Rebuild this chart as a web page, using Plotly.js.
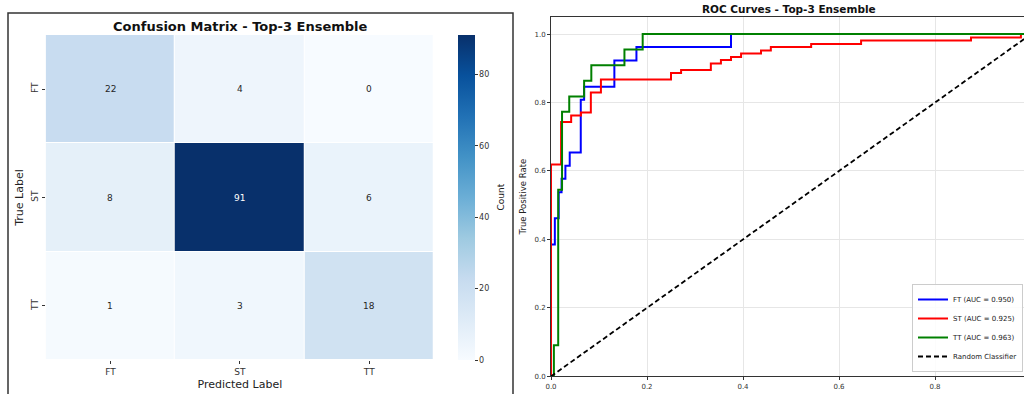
<!DOCTYPE html>
<html>
<head>
<meta charset="utf-8">
<script src="https://cdn.plot.ly/plotly-3.0.1.min.js"></script>
<style>
html,body{margin:0;padding:0;width:1024px;height:394px;overflow:hidden;background:#fff;}
#chart{width:1040px;height:410px;}
</style>
</head>
<body>
<div id="chart"></div>
<script>
// ---- data ----
const classes = ['FT', 'ST', 'TT'];
const cmValues = [
  [22, 4, 0],
  [8, 91, 6],
  [1, 3, 18]
];
const colorbarTicks = [0, 20, 40, 60, 80];

const aucValues = [0.950, 0.925, 0.963];
const ftFpr = [0, 0, 0.008, 0.008, 0.016, 0.016, 0.022, 0.022, 0.030, 0.030, 0.039, 0.039, 0.062, 0.062, 0.069, 0.069, 0.132, 0.132, 0.178, 0.178, 0.375, 0.375, 1];
const ftTpr = [0, 0.385, 0.385, 0.462, 0.462, 0.538, 0.538, 0.577, 0.577, 0.615, 0.615, 0.654, 0.654, 0.808, 0.808, 0.846, 0.846, 0.923, 0.923, 0.962, 0.962, 1.0, 1.0];
const stFpr = [0, 0, 0.021, 0.021, 0.042, 0.042, 0.0625, 0.0625, 0.083, 0.083, 0.104, 0.104, 0.25, 0.25, 0.271, 0.271, 0.333, 0.333, 0.354, 0.354, 0.375, 0.375, 0.396, 0.396, 0.4375, 0.4375, 0.458, 0.458, 0.542, 0.542, 0.646, 0.646, 0.875, 0.875, 0.979, 0.979, 1];
const stTpr = [0, 0.619, 0.619, 0.743, 0.743, 0.762, 0.762, 0.771, 0.771, 0.829, 0.829, 0.867, 0.867, 0.886, 0.886, 0.895, 0.895, 0.914, 0.914, 0.924, 0.924, 0.933, 0.933, 0.943, 0.943, 0.952, 0.952, 0.962, 0.962, 0.971, 0.971, 0.981, 0.981, 0.990, 0.990, 1.0, 1.0];
const ttFpr = [0, 0.006, 0.006, 0.015, 0.015, 0.023, 0.023, 0.038, 0.038, 0.069, 0.069, 0.084, 0.084, 0.153, 0.153, 0.191, 0.191, 1];
const ttTpr = [0, 0, 0.091, 0.091, 0.545, 0.545, 0.773, 0.773, 0.818, 0.818, 0.864, 0.864, 0.909, 0.909, 0.955, 0.955, 1.0, 1.0];
const diagonal = [0, 1];
const rocTicks = [0, 0.2, 0.4, 0.6, 0.8, 1.0];

// ---- layout helpers (pixel geometry of a 1040x410 canvas, cropped to 1024x394) ----
const W = 1040, H = 410;
const px = v => v / W;
const py = v => 1 - v / H;
const FONT = 'DejaVu Sans, sans-serif';

const blues = [
  [0.0, '#f7fbff'], [0.125, '#deebf7'], [0.25, '#c6dbef'], [0.375, '#9ecae1'],
  [0.5, '#6baed6'], [0.625, '#4292c6'], [0.75, '#2171b5'], [0.875, '#08519c'], [1.0, '#08306b']
];
const zMax = 91;

const traces = [];
traces.push({
  type: 'heatmap',
  x: classes, y: classes, z: cmValues,
  xaxis: 'x', yaxis: 'y',
  colorscale: blues, zmin: 0, zmax: zMax,
  xgap: 1, ygap: 1,
  hoverinfo: 'none', showlegend: false,
  colorbar: {
    x: px(458), xanchor: 'left', xref: 'paper', xpad: 0,
    y: py(197.5), yanchor: 'middle', yref: 'paper', ypad: 0,
    len: 325, lenmode: 'pixels',
    thickness: 17, thicknessmode: 'pixels',
    outlinewidth: 0,
    ticks: 'outside', ticklen: 3, tickcolor: '#333', tickwidth: 1,
    tickvals: colorbarTicks,
    tickfont: {family: FONT, size: 8, color: '#333'}
  }
});

const rocSeries = [
  {name: 'FT', fpr: ftFpr, tpr: ftTpr, color: '#0000ff', auc: aucValues[0]},
  {name: 'ST', fpr: stFpr, tpr: stTpr, color: '#ff0000', auc: aucValues[1]},
  {name: 'TT', fpr: ttFpr, tpr: ttTpr, color: '#008000', auc: aucValues[2]}
];
rocSeries.forEach(s => {
  traces.push({
    type: 'scatter', mode: 'lines',
    x: s.fpr, y: s.tpr, xaxis: 'x2', yaxis: 'y2',
    name: s.name + ' (AUC = ' + s.auc.toFixed(3) + ')',
    line: {color: s.color, width: 2},
    hoverinfo: 'none'
  });
});
traces.push({
  type: 'scatter', mode: 'lines',
  x: diagonal, y: diagonal, xaxis: 'x2', yaxis: 'y2',
  name: 'Random Classifier',
  line: {color: '#000', width: 1.8, dash: '5px,3px'},
  hoverinfo: 'none'
});

const annotations = [];
cmValues.forEach((row, i) => {
  row.forEach((v, j) => {
    annotations.push({
      x: classes[j], y: classes[i], xref: 'x', yref: 'y',
      text: String(v), showarrow: false,
      font: {family: FONT, size: 9, color: v > zMax / 2 ? '#ffffff' : '#262626'}
    });
  });
});
annotations.push({
  text: '<b>Confusion Matrix - Top-3 Ensemble</b>', showarrow: false,
  xref: 'paper', yref: 'paper', x: px(240), y: py(26), xanchor: 'center', yanchor: 'middle',
  font: {family: FONT, size: 13, color: '#111'}
});
annotations.push({
  text: 'Count', showarrow: false, textangle: -90,
  xref: 'paper', yref: 'paper', x: px(500), y: py(197.5), xanchor: 'center', yanchor: 'middle',
  font: {family: FONT, size: 9, color: '#222'}
});
annotations.push({
  text: '<b>ROC Curves - Top-3 Ensemble</b>', showarrow: false,
  xref: 'paper', yref: 'paper', x: px(789), y: py(9), xanchor: 'center', yanchor: 'middle',
  font: {family: FONT, size: 10.5, color: '#111'}
});

const layout = {
  width: W, height: H,
  margin: {l: 0, r: 0, t: 0, b: 0, pad: 0},
  paper_bgcolor: '#fff', plot_bgcolor: '#fff',
  font: {family: FONT, color: '#333'},
  showlegend: true,
  xaxis: {
    domain: [px(45.7), px(434)], anchor: 'y',
    type: 'category', showgrid: false, zeroline: false, showline: false,
    ticks: 'outside', ticklen: 3, tickcolor: '#333',
    tickfont: {family: FONT, size: 9, color: '#333'},
    title: {text: 'Predicted Label', font: {family: FONT, size: 11, color: '#222'}, standoff: 4},
    automargin: false, fixedrange: true
  },
  yaxis: {
    domain: [py(360), py(35)], anchor: 'x',
    type: 'category', autorange: 'reversed',
    showgrid: false, zeroline: false, showline: false,
    ticks: 'outside', ticklen: 3, tickcolor: '#333', tickangle: -90,
    tickfont: {family: FONT, size: 9, color: '#333'},
    title: {text: 'True Label', font: {family: FONT, size: 11, color: '#222'}, standoff: 4},
    automargin: false, fixedrange: true
  },
  xaxis2: {
    domain: [px(551), px(1031)], anchor: 'y2',
    range: [0, 1], tickvals: rocTicks, tickformat: '.1f',
    showgrid: true, gridcolor: '#e6e6e6', gridwidth: 1, zeroline: false,
    showline: true, mirror: true, linecolor: '#333', linewidth: 1,
    ticks: 'outside', ticklen: 3, tickcolor: '#333',
    tickfont: {family: FONT, size: 7, color: '#333'},
    title: {text: 'False Positive Rate', font: {family: FONT, size: 8.5, color: '#222'}, standoff: 6},
    automargin: false, fixedrange: true
  },
  yaxis2: {
    domain: [py(376.3), py(17)], anchor: 'x2',
    range: [0, 1.05], tickvals: rocTicks, tickformat: '.1f',
    showgrid: true, gridcolor: '#e6e6e6', gridwidth: 1, zeroline: false,
    showline: true, mirror: true, linecolor: '#333', linewidth: 1,
    ticks: 'outside', ticklen: 3, tickcolor: '#333',
    tickfont: {family: FONT, size: 7, color: '#333'},
    title: {text: 'True Positive Rate', font: {family: FONT, size: 8.5, color: '#222'}, standoff: 6},
    automargin: false, fixedrange: true
  },
  legend: {
    x: px(1023), xanchor: 'right', y: py(372), yanchor: 'bottom',
    bgcolor: 'rgba(255,255,255,0.85)', bordercolor: '#cccccc', borderwidth: 1,
    font: {family: FONT, size: 7, color: '#222'},
    tracegroupgap: 0, itemwidth: 30
  },
  shapes: [{
    type: 'rect', xref: 'paper', yref: 'paper',
    x0: px(8), x1: px(513), y0: -0.2, y1: py(13),
    line: {color: '#333', width: 1.5}, fillcolor: 'rgba(0,0,0,0)', layer: 'above'
  }],
  annotations: annotations
};

Plotly.newPlot('chart', traces, layout, {displayModeBar: false, staticPlot: true});
</script>
</body>
</html>
